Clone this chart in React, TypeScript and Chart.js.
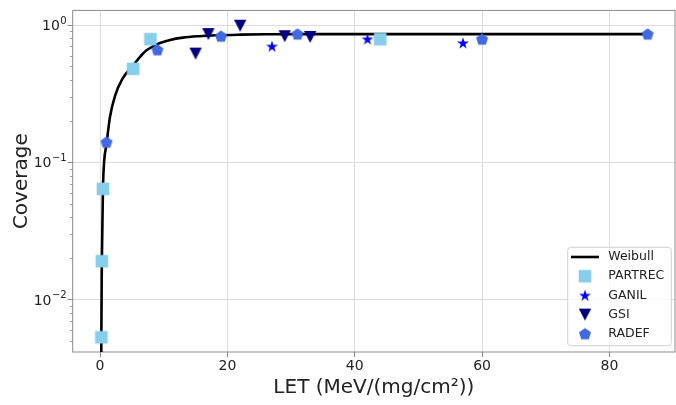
import React, { useEffect, useRef } from "react";
import { Chart, registerables } from "chart.js";

Chart.register(...registerables);

// ---- data ----
const weibullLET = [0.19, 0.2, 0.28, 0.45, 0.63, 1.0, 1.56, 2.35, 3.5, 5.2, 6.25, 7.3, 8.3, 9.4, 11, 13, 15.5, 18.2, 22, 26, 35, 50, 86];
const weibullCoverage = [0.0035, 0.0053, 0.019, 0.064, 0.1, 0.135, 0.215, 0.305, 0.405, 0.51, 0.585, 0.655, 0.7, 0.74, 0.78, 0.81, 0.83, 0.843, 0.852, 0.857, 0.86, 0.86, 0.86];

const partrecLET = [0.2, 0.28, 0.45, 5.2, 7.9, 44];
const partrecCoverage = [0.0053, 0.019, 0.064, 0.48, 0.79, 0.79];

const ganilLET = [27, 42, 57];
const ganilCoverage = [0.7, 0.79, 0.74];

const gsiLET = [15, 17, 22, 29, 33];
const gsiCoverage = [0.62, 0.86, 0.99, 0.83, 0.82];

const radefLET = [1.0, 9, 19, 31, 60, 86];
const radefCoverage = [0.14, 0.66, 0.83, 0.86, 0.79, 0.86];

const seriesNames = ["Weibull", "PARTREC", "GANIL", "GSI", "RADEF"];
const xTicks = [0, 20, 40, 60, 80];
const yTicks = [0.01, 0.1, 1];
const yTickBase = "10";
const yTickExponents = ["−2", "−1", "0"];
const xTitle = "LET (MeV/(mg/cm²))";
const yTitle = "Coverage";

const X_MIN = -4.3;
const X_MAX = 90.3;
const Y_MIN = 0.00414;
const Y_MAX = 1.28;

const FONT = "'DejaVu Sans', sans-serif";

function pts(xs: number[], ys: number[]) {
  return xs.map((x, i) => ({ x, y: ys[i] }));
}

function makeMarker(shape: string, color: string): HTMLCanvasElement {
  const s = 16;
  const c = document.createElement("canvas");
  c.width = s;
  c.height = s;
  const ctx = c.getContext("2d")!;
  ctx.translate(s / 2, s / 2);
  ctx.fillStyle = color;
  ctx.beginPath();
  if (shape === "square") {
    ctx.rect(-6.3, -6.3, 12.6, 12.6);
  } else if (shape === "star") {
    const R = 6.2;
    const r = R * 0.381966;
    for (let i = 0; i < 10; i++) {
      const a = -Math.PI / 2 + (i * Math.PI) / 5;
      const rad = i % 2 === 0 ? R : r;
      const px = Math.cos(a) * rad;
      const py = Math.sin(a) * rad + 0.4;
      if (i === 0) ctx.moveTo(px, py);
      else ctx.lineTo(px, py);
    }
    ctx.closePath();
  } else if (shape === "triangleDown") {
    ctx.moveTo(0, 6.1);
    ctx.lineTo(-6.2, -5.9);
    ctx.lineTo(6.2, -5.9);
    ctx.closePath();
  } else if (shape === "pentagon") {
    const R = 6.3;
    for (let i = 0; i < 5; i++) {
      const a = -Math.PI / 2 + (i * 2 * Math.PI) / 5;
      const px = Math.cos(a) * R;
      const py = Math.sin(a) * R + 0.5;
      if (i === 0) ctx.moveTo(px, py);
      else ctx.lineTo(px, py);
    }
    ctx.closePath();
  }
  ctx.fill();
  return c;
}

export default function App() {
  const ref = useRef<HTMLCanvasElement | null>(null);

  useEffect(() => {
    document.body.style.margin = "0";
    document.body.style.overflow = "hidden";
    document.documentElement.style.overflow = "hidden";
    const canvas = ref.current;
    if (!canvas) return;

    const mSquare = makeMarker("square", "#87CEEB");
    const mStar = makeMarker("star", "#0000FF");
    const mTri = makeMarker("triangleDown", "#000080");
    const mPent = makeMarker("pentagon", "#4169E1");
    const legendMarkers: (HTMLCanvasElement | null)[] = [null, mSquare, mStar, mTri, mPent];

    const framePlugin = {
      id: "frameAndLegend",
      beforeDatasetsDraw(chart: any) {
        const { ctx, chartArea } = chart;
        const { left, top, right, bottom } = chartArea;
        ctx.save();
        ctx.strokeStyle = "#8a8a8a";
        ctx.lineWidth = 1;
        ctx.strokeRect(left, top, right - left, bottom - top);
        // minor ticks on log axis
        const ys = chart.scales.y;
        ctx.beginPath();
        for (let k = -3; k <= 0; k++) {
          for (let m = 2; m <= 9; m++) {
            const v = m * Math.pow(10, k);
            if (v < Y_MIN || v > Y_MAX) continue;
            const py = Math.round(ys.getPixelForValue(v)) + 0.5;
            ctx.moveTo(left - 2.8, py);
            ctx.lineTo(left, py);
          }
        }
        ctx.lineWidth = 0.8;
        ctx.stroke();

        // y tick labels with raised exponents
        ctx.fillStyle = "#222";
        ctx.textBaseline = "alphabetic";
        ctx.textAlign = "right";
        const labelRight = left - 6;
        yTicks.forEach((v, i) => {
          const py = ys.getPixelForValue(v);
          const baseY = py + 5.1;
          ctx.font = `10px ${FONT}`;
          const ew = ctx.measureText(yTickExponents[i]).width;
          ctx.fillText(yTickExponents[i], labelRight, baseY - 6.2);
          ctx.font = `14px ${FONT}`;
          ctx.fillText(yTickBase, labelRight - ew - 0.5, baseY);
        });
        ctx.restore();
      },
      afterDatasetsDraw(chart: any) {
        const { ctx } = chart;
        ctx.save();
        const bx = 567.7, by = 247.3, bw = 103.6, bh = 98.4, r = 3;
        ctx.beginPath();
        ctx.moveTo(bx + r, by);
        ctx.lineTo(bx + bw - r, by);
        ctx.arcTo(bx + bw, by, bx + bw, by + r, r);
        ctx.lineTo(bx + bw, by + bh - r);
        ctx.arcTo(bx + bw, by + bh, bx + bw - r, by + bh, r);
        ctx.lineTo(bx + r, by + bh);
        ctx.arcTo(bx, by + bh, bx, by + bh - r, r);
        ctx.lineTo(bx, by + r);
        ctx.arcTo(bx, by, bx + r, by, r);
        ctx.closePath();
        ctx.fillStyle = "rgba(255,255,255,0.8)";
        ctx.fill();
        ctx.strokeStyle = "#d0d0d0";
        ctx.lineWidth = 1;
        ctx.stroke();

        ctx.font = `12.5px ${FONT}`;
        ctx.textBaseline = "middle";
        ctx.textAlign = "left";
        seriesNames.forEach((name, i) => {
          const cy = 257 + i * 19.2;
          const mk = legendMarkers[i];
          if (mk) {
            ctx.drawImage(mk, 585 - mk.width / 2, cy - mk.height / 2);
          } else {
            ctx.beginPath();
            ctx.moveTo(571, cy);
            ctx.lineTo(599, cy);
            ctx.strokeStyle = "#000";
            ctx.lineWidth = 2.6;
            ctx.stroke();
          }
          ctx.fillStyle = "#222";
          ctx.fillText(name, 608.3, cy);
        });
        ctx.restore();
      },
    };

    const chart = new Chart(canvas, {
      type: "scatter",
      data: {
        datasets: [
          {
            label: seriesNames[0],
            data: pts(weibullLET, weibullCoverage),
            showLine: true,
            borderColor: "#000000",
            borderWidth: 2.6,
            pointRadius: 0,
            cubicInterpolationMode: "monotone",
            order: 5,
          },
          {
            label: seriesNames[1],
            data: pts(partrecLET, partrecCoverage),
            pointStyle: mSquare,
            order: 4,
          },
          {
            label: seriesNames[2],
            data: pts(ganilLET, ganilCoverage),
            pointStyle: mStar,
            order: 3,
          },
          {
            label: seriesNames[3],
            data: pts(gsiLET, gsiCoverage),
            pointStyle: mTri,
            order: 2,
          },
          {
            label: seriesNames[4],
            data: pts(radefLET, radefCoverage),
            pointStyle: mPent,
            order: 1,
          },
        ] as any,
      },
      options: {
        responsive: false,
        maintainAspectRatio: false,
        animation: false,
        devicePixelRatio: 1,
        layout: { padding: { left: 0, top: 5.3, right: 2.2, bottom: 0 } },
        plugins: {
          legend: { display: false },
          tooltip: { enabled: false },
        },
        scales: {
          x: {
            type: "linear",
            min: X_MIN,
            max: X_MAX,
            afterBuildTicks: (scale: any) => {
              scale.ticks = xTicks.map((v) => ({ value: v }));
            },
            afterFit: (scale: any) => {
              scale.height = 53;
            },
            border: { display: false },
            grid: {
              color: "#dcdcdc",
              lineWidth: 1,
              drawTicks: true,
              tickLength: 5,
              tickColor: "#8a8a8a",
              tickWidth: 1,
            },
            ticks: {
              autoSkip: false,
              maxRotation: 0,
              padding: 1,
              color: "#222",
              font: { family: FONT, size: 14 },
              callback: (v: any) => String(v),
            },
            title: {
              display: true,
              text: xTitle,
              color: "#222",
              font: { family: FONT, size: 20 },
              padding: { top: 0, bottom: 5 },
            },
          },
          y: {
            type: "logarithmic",
            min: Y_MIN,
            max: Y_MAX,
            afterBuildTicks: (scale: any) => {
              scale.ticks = yTicks.map((v) => ({ value: v, major: true }));
            },
            afterFit: (scale: any) => {
              scale.width = 72.7;
            },
            border: { display: false },
            grid: {
              color: "#dcdcdc",
              lineWidth: 1,
              drawTicks: true,
              tickLength: 5,
              tickColor: "#8a8a8a",
              tickWidth: 1,
            },
            ticks: {
              autoSkip: false,
              padding: 2,
              color: "rgba(0,0,0,0)",
              font: { family: FONT, size: 14 },
              callback: (v: any) => {
                const idx = yTicks.findIndex((t) => Math.abs(t - Number(v)) < t * 1e-6);
                return idx >= 0 ? yTickBase + yTickExponents[idx] : "";
              },
            },
            title: {
              display: true,
              text: yTitle,
              color: "#222",
              font: { family: FONT, size: 20 },
              padding: { top: 10, bottom: 0 },
            },
          },
        },
      },
      plugins: [framePlugin],
    } as any);

    return () => {
      chart.destroy();
    };
  }, []);

  return (
    <div style={{ position: "fixed", left: 0, top: 0, width: 680, height: 405, background: "#ffffff" }}>
      <canvas ref={ref} width={680} height={405} style={{ display: "block", width: 680, height: 405 }} />
    </div>
  );
}
